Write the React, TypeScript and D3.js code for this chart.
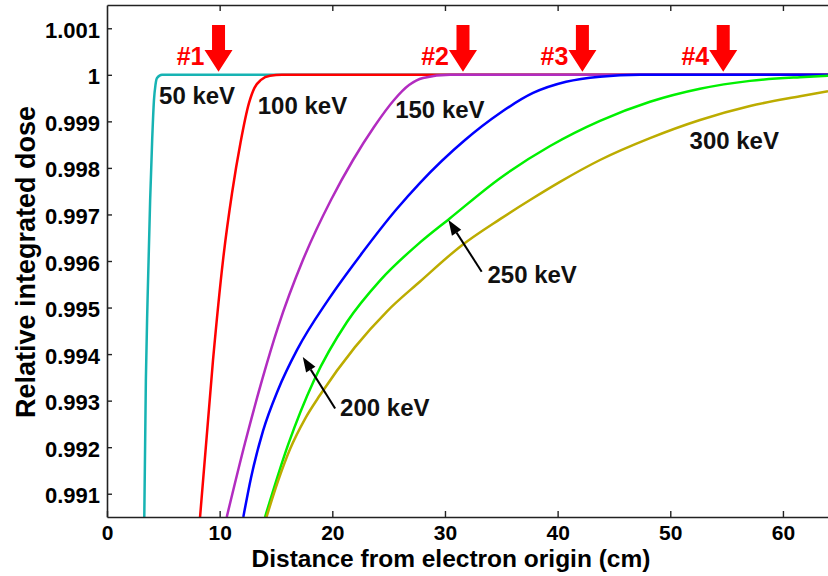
import React, { useEffect, useRef } from 'react';
import * as d3 from 'd3';

// beam energies and colours (same order as the curves below)
const energies = ['50 keV', '100 keV', '150 keV', '200 keV', '250 keV', '300 keV'];
const colors = ['#17b3b3', '#ff0000', '#b22cc0', '#0000ff', '#00f000', '#bcac00'];

// distance from electron origin (cm) / relative integrated dose
const dist50 = [3.31, 3.45, 3.6, 3.83, 4.01, 4.17, 4.3, 4.44, 4.88, 64];
const dose50 = [0.9905, 0.99344, 0.99516, 0.99731, 0.9986, 0.99946, 0.99978, 0.99993, 1.0, 1.0];

const dist100 = [8.26, 9.41, 10.3, 11.1, 11.85, 12.6, 13.09, 13.67, 14.47, 15.53, 64];
const dose100 = [0.9905, 0.99387, 0.99602, 0.99746, 0.99854, 0.99939, 0.99972, 0.99989, 0.99998, 1.0, 1.0];

const dist150 = [10.63, 12.25, 13.76, 15.18, 17.39, 19.88, 21.84, 23.7, 25.48, 26.81, 28.05, 30.45, 64];
const dose150 = [0.9905, 0.99209, 0.99344, 0.99458, 0.99602, 0.99731, 0.99817, 0.99888, 0.99946, 0.99978, 0.99993, 1.0, 1.0];

const dist200 = [12.1, 12.78, 13.85, 15.18, 16.87, 19.62, 22.64, 25.66, 27.79, 31.78, 34.89, 37.82, 40.75, 43.76, 47.31, 64];
const dose200 = [0.9905, 0.99134, 0.99235, 0.99323, 0.99409, 0.99516, 0.99617, 0.9971, 0.99768, 0.9986, 0.99918, 0.99961, 0.99985, 0.99996, 1.0, 1.0];

const dist250 = [14.03, 16.07, 18.38, 21.3, 24.23, 27.79, 30.45, 34.89, 39.33, 43.76, 48.2, 52.64, 57.08, 61.52, 64];
const dose250 = [0.9905, 0.99205, 0.99344, 0.99469, 0.99558, 0.9964, 0.99692, 0.99778, 0.99847, 0.99901, 0.99942, 0.9997, 0.99987, 0.99995, 0.99998];

const dist300 = [14.16, 15.18, 16.25, 17.58, 18.91, 22.01, 24.86, 27.79, 31.51, 34.89, 37.55, 40.21, 43.76, 48.2, 52.64, 57.08, 61.52, 64];
const dose300 = [0.9905, 0.99127, 0.99196, 0.99261, 0.99312, 0.99415, 0.99492, 0.99556, 0.99634, 0.9969, 0.99731, 0.9977, 0.99817, 0.99864, 0.99903, 0.99933, 0.99954, 0.99965];

const distances = [dist50, dist100, dist150, dist200, dist250, dist300];
const doses = [dose50, dose100, dose150, dose200, dose250, dose300];

// axis ticks
const xTicks = [0, 10, 20, 30, 40, 50, 60];
const yTicks = [0.991, 0.992, 0.993, 0.994, 0.995, 0.996, 0.997, 0.998, 0.999, 1.0, 1.001];
const yTickLabels = ['0.991', '0.992', '0.993', '0.994', '0.995', '0.996', '0.997', '0.998', '0.999', '1', '1.001'];

// curve labels (left edge, baseline) in data units
const labelX = [4.62, 13.38, 25.58, 20.69, 33.77, 51.71];
const labelY = [0.99937, 0.99916, 0.99907, 0.99267, 0.99553, 0.99841];

// black pointers for 200 and 250 keV
const pointerFrom = [[20.25, 0.99283], [33.26, 0.99577]];
const pointerTo = [[17.38, 0.99394], [30.31, 0.99688]];

// red markers at the top
const markerX = [9.9, 31.6, 42.2, 54.7];
const markerLabels = ['#1', '#2', '#3', '#4'];

const W = 828;
const H = 576;
const FONT = '"Liberation Sans", Arial, sans-serif';

export default function App() {
    const ref = useRef<SVGSVGElement>(null);

    useEffect(() => {
        const svg = d3.select(ref.current);
        svg.selectAll('*').remove();

        const left = 107, right = 828, top = 5, bottom = 517;

        const x = d3.scaleLinear().domain([0, 64]).range([left, right]);
        const y = d3.scaleLinear().domain([0.9905, 1.0015]).range([bottom, top]);

        svg.append('rect').attr('width', W).attr('height', H).attr('fill', '#fff');

        svg.append('clipPath').attr('id', 'plotclip')
            .append('rect')
            .attr('x', left).attr('y', top)
            .attr('width', right - left).attr('height', bottom - top);

        // curves, later energies drawn on top
        const line = d3.line().curve(d3.curveMonotoneX);
        const curves = svg.append('g').attr('clip-path', 'url(#plotclip)');
        distances.forEach((xs, i) => {
            const pts = xs.map((d, j) => [x(d), y(doses[i][j])] as [number, number]);
            curves.append('path')
                .attr('d', line(pts))
                .attr('fill', 'none')
                .attr('stroke', colors[i])
                .attr('stroke-width', 2.5);
        });

        // axes (ticks point inward)
        const xAxis = svg.append('g')
            .attr('transform', `translate(0, ${bottom})`)
            .call(d3.axisBottom(x).tickValues(xTicks).tickSizeInner(-6).tickSizeOuter(0).tickPadding(8));

        xAxis.selectAll('text')
            .attr('font-family', FONT)
            .attr('font-weight', 'bold')
            .attr('font-size', 21)
            .attr('fill', '#000');

        svg.append('g')
            .attr('transform', `translate(0, ${top})`)
            .call(d3.axisTop(x).tickValues(xTicks.filter(d => d > 0)).tickSizeInner(-6).tickSizeOuter(0).tickFormat(() => ''));

        const yAxis = svg.append('g')
            .attr('transform', `translate(${left}, 0)`)
            .call(d3.axisLeft(y).tickValues(yTicks).tickSizeInner(-5).tickSizeOuter(0).tickPadding(7)
                .tickFormat((d, i) => yTickLabels[i]));

        yAxis.selectAll('text')
            .attr('font-family', FONT)
            .attr('font-weight', 'bold')
            .attr('font-size', 22)
            .attr('dy', '0.41em')
            .attr('fill', '#000');

        svg.selectAll('.domain').attr('stroke', '#222').attr('stroke-width', 1.6);
        svg.selectAll('.tick line').attr('stroke', '#222').attr('stroke-width', 1.4);

        // axis titles
        svg.append('text')
            .attr('x', 451)
            .attr('y', 567)
            .attr('text-anchor', 'middle')
            .attr('font-family', FONT)
            .attr('font-weight', 'bold')
            .attr('font-size', 24.5)
            .text('Distance from electron origin (cm)');

        svg.append('text')
            .attr('transform', 'translate(35, 262) rotate(-90)')
            .attr('text-anchor', 'middle')
            .attr('font-family', FONT)
            .attr('font-weight', 'bold')
            .attr('font-size', 27)
            .text('Relative integrated dose');

        // curve labels
        energies.forEach((e, i) => {
            svg.append('text')
                .attr('x', x(labelX[i]))
                .attr('y', y(labelY[i]))
                .attr('font-family', FONT)
                .attr('font-weight', 'bold')
                .attr('font-size', 24)
                .attr('fill', '#111')
                .text(e);
        });

        // black pointer arrows
        pointerFrom.forEach((p, i) => {
            const x1 = x(p[0]), y1 = y(p[1]);
            const x2 = x(pointerTo[i][0]), y2 = y(pointerTo[i][1]);
            const ang = Math.atan2(y2 - y1, x2 - x1);
            const len = 15, half = 5.5;
            const bx = x2 - len * Math.cos(ang), by = y2 - len * Math.sin(ang);
            svg.append('line')
                .attr('x1', x1).attr('y1', y1)
                .attr('x2', bx).attr('y2', by)
                .attr('stroke', '#000').attr('stroke-width', 2);
            svg.append('path')
                .attr('d', `M${x2},${y2}L${bx + half * Math.sin(ang)},${by - half * Math.cos(ang)}L${bx - half * Math.sin(ang)},${by + half * Math.cos(ang)}Z`)
                .attr('fill', '#000');
        });

        // red markers
        const tipY = y(1) - 3;
        markerX.forEach((m, i) => {
            const tx = x(m);
            svg.append('path')
                .attr('d', `M${tx - 6.5},25H${tx + 6.5}V50H${tx + 14}L${tx},${tipY}L${tx - 14},50H${tx - 6.5}Z`)
                .attr('fill', '#ff0000');
            svg.append('text')
                .attr('x', tx - 14)
                .attr('y', 65)
                .attr('text-anchor', 'end')
                .attr('font-family', FONT)
                .attr('font-weight', 'bold')
                .attr('font-size', 25)
                .attr('fill', '#ff0000')
                .text(markerLabels[i]);
        });
    }, []);

    return <svg ref={ref} width={W} height={H} style={{ position: 'absolute', left: 0, top: 0 }} />;
}
